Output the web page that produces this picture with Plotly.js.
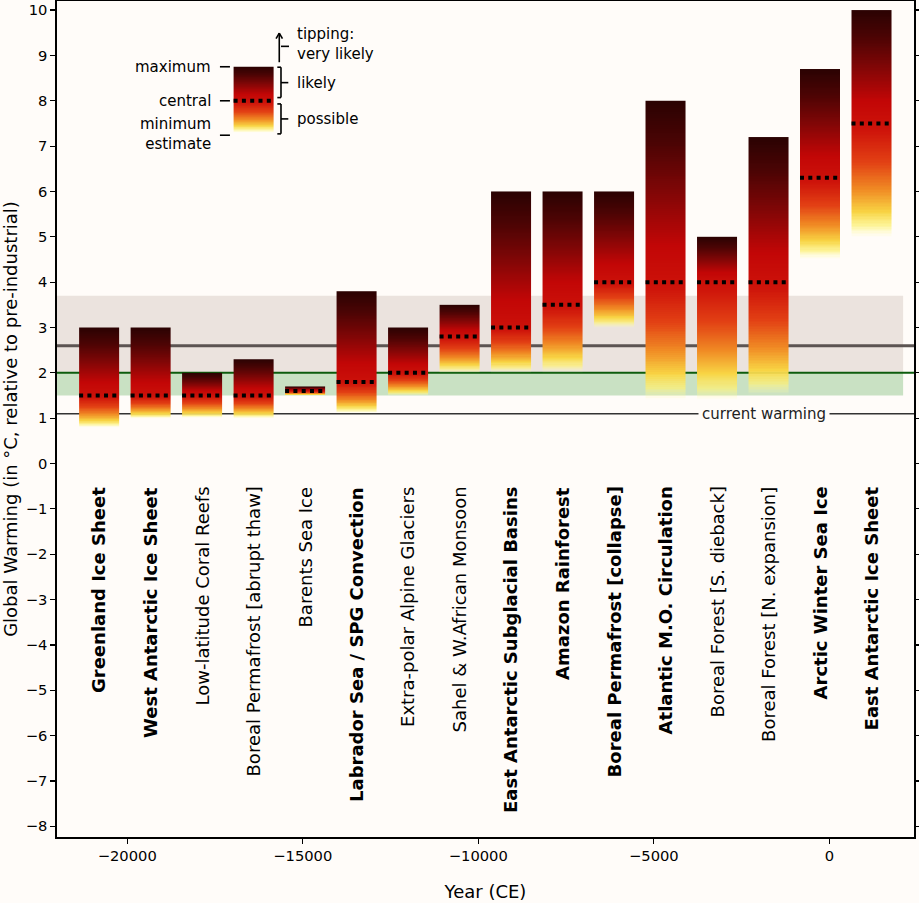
<!DOCTYPE html>
<html><head><meta charset="utf-8">
<script src="https://cdn.plot.ly/plotly-3.0.1.min.js"></script>
<style>html,body{margin:0;padding:0;background:#fffcf9;}</style>
</head><body><div id="chart" style="width:919px;height:903px;"></div>
<script>
// ---- data ----
const elements = ["Greenland Ice Sheet","West Antarctic Ice Sheet","Low-latitude Coral Reefs","Boreal Permafrost [abrupt thaw]","Barents Sea Ice","Labrador Sea / SPG Convection","Extra-polar Alpine Glaciers","Sahel & W.African Monsoon","East Antarctic Subglacial Basins","Amazon Rainforest","Boreal Permafrost [collapse]","Atlantic M.O. Circulation","Boreal Forest [S. dieback]","Boreal Forest [N. expansion]","Arctic Winter Sea Ice","East Antarctic Ice Sheet"];
const isCore = [true,true,false,false,false,true,false,false,true,true,true,true,false,false,true,true];
const yearPos = [-20800,-19333,-17867,-16400,-14933,-13467,-12000,-10533,-9067,-7600,-6133,-4667,-3200,-1733,-267,1200];
const minEstimate = [0.8,1.0,1.0,1.0,1.5,1.1,1.5,2.0,2.0,2.0,3.0,1.4,1.4,1.5,4.5,5.0];
const centralEstimate = [1.5,1.5,1.5,1.5,1.6,1.8,2.0,2.8,3.0,3.5,4.0,4.0,4.0,4.0,6.3,7.5];
const maxEstimate = [3.0,3.0,2.0,2.3,1.7,3.8,3.0,3.5,6.0,6.0,6.0,8.0,5.0,7.2,8.7,10.0];
// legend example bar
const legendPos = -16400, legendMin = 7.3, legendCentral = 8.0, legendMax = 8.75;
// reference levels
const currentWarming = 1.1;
const parisLow = 1.5, parisHigh = 2.0;
const projectedWarming = 2.6, projectedHigh = 3.7;
const bandEndYear = 2100;
const yTicks = [-8,-7,-6,-5,-4,-3,-2,-1,0,1,2,3,4,5,6,7,8,9,10];
const xTicks = [-20000,-15000,-10000,-5000,0];
const xTickLabels = ['\u221220000','\u221215000','\u221210000','\u22125000','0'];

// ---- styling ----
const BG = '#fffcf9';
const W = 1140;            // bar width in years
const FONT = 'DejaVu Sans, sans-serif';
const grad = [
  [0.00,'rgba(255,255,175,0)'],
  [0.05,'rgba(252,240,120,0.75)'],
  [0.11,'rgba(248,212,68,1)'],
  [0.21,'rgb(240,138,36)'],
  [0.33,'rgb(226,64,20)'],
  [0.47,'rgb(206,20,10)'],
  [0.60,'rgb(194,6,6)'],
  [0.75,'rgb(128,6,6)'],
  [0.88,'rgb(76,4,4)'],
  [1.00,'rgb(42,2,2)']
];
const NSEG = 160;

function gradientBar(xc, lo, mid, hi) {
  const edges = [], z = [];
  for (let k = 0; k <= NSEG; k++) edges.push(lo + (hi - lo) * k / NSEG);
  for (let k = 0; k < NSEG; k++) {
    const v = (edges[k] + edges[k+1]) / 2;
    let t;
    if (v <= mid) t = mid > lo ? 0.5 * (v - lo) / (mid - lo) : 0.5;
    else t = hi > mid ? 0.5 + 0.5 * (v - mid) / (hi - mid) : 0.5;
    z.push([t]);
  }
  return {type:'heatmap', x:[xc - W/2, xc + W/2], y:edges, z:z,
          colorscale:grad, zmin:0, zmax:1, showscale:false,
          hoverinfo:'skip', zsmooth:false};
}

const traces = [];
for (let i = 0; i < elements.length; i++)
  traces.push(gradientBar(yearPos[i], minEstimate[i], centralEstimate[i], maxEstimate[i]));
traces.push(gradientBar(legendPos, legendMin, legendCentral, legendMax));

const dx = [], dy = [];
for (let i = 0; i < elements.length; i++) {
  dx.push(yearPos[i] - W/2, yearPos[i] + W/2, null);
  dy.push(centralEstimate[i], centralEstimate[i], null);
}
dx.push(legendPos - W/2, legendPos + W/2, null);
dy.push(legendCentral, legendCentral, null);
traces.push({type:'scatter', mode:'lines', x:dx, y:dy, hoverinfo:'skip',
  line:{color:'#000', width:4, dash:'4px,4.3px'}, showlegend:false});

const shapes = [
  {type:'rect', xref:'x', yref:'y', x0:-23000, x1:bandEndYear, y0:parisHigh, y1:projectedHigh,
   fillcolor:'#ebe3de', line:{width:0}, layer:'below'},
  {type:'rect', xref:'x', yref:'y', x0:-23000, x1:bandEndYear, y0:parisLow, y1:parisHigh,
   fillcolor:'#c9e1c3', line:{width:0}, layer:'below'},
  {type:'line', xref:'x', yref:'y', x0:-23000, x1:3000, y0:projectedWarming, y1:projectedWarming,
   line:{color:'#5c5452', width:3}, layer:'below'},
  {type:'line', xref:'x', yref:'y', x0:-23000, x1:3000, y0:parisHigh, y1:parisHigh,
   line:{color:'#0d5c0d', width:2}, layer:'below'},
  {type:'line', xref:'x', yref:'y', x0:-23000, x1:3000, y0:currentWarming, y1:currentWarming,
   line:{color:'#333', width:1.5}, layer:'below'}
];
// legend key marks
const STK = {color:'#000', width:1.6};
function seg(x0,y0,x1,y1){ shapes.push({type:'line', xref:'x', yref:'y', x0, y0, x1, y1, line:STK}); }
seg(-17359, legendMax, -17074, legendMax);
seg(-17359, legendCentral, -17074, legendCentral);
seg(-17359, 7.24, -17074, 7.24);
// likely bracket
seg(-15725, 8.74, -15620, 8.74); seg(-15620, 8.74, -15620, 8.07); seg(-15725, 8.07, -15620, 8.07);
seg(-15620, 8.40, -15412, 8.40);
// possible bracket
seg(-15725, 7.93, -15620, 7.93); seg(-15620, 7.93, -15620, 7.27); seg(-15725, 7.27, -15620, 7.27);
seg(-15620, 7.60, -15412, 7.60);
// arrow
seg(-15669, 8.85, -15669, 9.49);
seg(-15669, 9.49, -15760, 9.37); seg(-15669, 9.49, -15578, 9.37);
seg(-15620, 9.20, -15392, 9.20);

const ann = [];
for (let i = 0; i < elements.length; i++) {
  ann.push({xref:'x', yref:'y', x:yearPos[i], y:-0.47, text: isCore[i] ? '<b>'+elements[i]+'</b>' : elements[i],
    textangle:-90, xanchor:'center', yanchor:'top', showarrow:false,
    font:{family:FONT, size:18, color:'#000'}});
}
const kf = {family:FONT, size:15, color:'#000'};
ann.push({xref:'x', yref:'y', x:-17550, y:legendMax, text:'maximum', xanchor:'right', yanchor:'middle', showarrow:false, font:kf});
ann.push({xref:'x', yref:'y', x:-17550, y:legendCentral, text:'central', xanchor:'right', yanchor:'middle', showarrow:false, font:kf});
ann.push({xref:'x', yref:'y', x:-17550, y:7.26, text:'minimum<br>estimate', align:'right', xanchor:'right', yanchor:'middle', showarrow:false, font:kf});
ann.push({xref:'x', yref:'y', x:-15235, y:8.40, text:'likely', xanchor:'left', yanchor:'middle', showarrow:false, font:kf});
ann.push({xref:'x', yref:'y', x:-15235, y:7.60, text:'possible', xanchor:'left', yanchor:'middle', showarrow:false, font:kf});
ann.push({xref:'x', yref:'y', x:-15235, y:9.25, text:'tipping:<br>very likely', align:'left', xanchor:'left', yanchor:'middle', showarrow:false, font:kf});
ann.push({xref:'x', yref:'y', x:-1853, y:currentWarming, text:'current warming', xanchor:'center', yanchor:'middle',
  showarrow:false, bgcolor:BG, borderpad:3, font:{family:FONT, size:15, color:'#222'}});

const layout = {
  width:919, height:903,
  margin:{l:57, r:5, t:1, b:66},
  paper_bgcolor:BG, plot_bgcolor:BG,
  showlegend:false,
  font:{family:FONT, size:14.7, color:'#000'},
  xaxis:{range:[-22000, 2410], tickvals:xTicks, ticktext:xTickLabels, ticks:'outside', ticklen:5, tickwidth:1.2, tickcolor:'#000',
    showline:true, linecolor:'#000', linewidth:1.6, mirror:true, showgrid:false, zeroline:false,
    tickfont:{family:FONT, size:14.7, color:'#000'},
    title:{text:'Year (CE)', font:{family:FONT, size:18, color:'#000'}, standoff:22}},
  yaxis:{range:[-8.235, 10.2], tickvals:yTicks, ticks:'outside', ticklen:5, tickwidth:1.2, tickcolor:'#000',
    showline:true, linecolor:'#000', linewidth:1.6, mirror:'ticks', showgrid:false, zeroline:false,
    tickfont:{family:FONT, size:14.7, color:'#000'},
    title:{text:'Global Warming (in °C, relative to pre-industrial)', font:{family:FONT, size:18, color:'#000'}, standoff:8}},
  shapes:shapes,
  annotations:ann
};
Plotly.newPlot('chart', traces, layout, {displayModeBar:false, staticPlot:true});
</script></body></html>
